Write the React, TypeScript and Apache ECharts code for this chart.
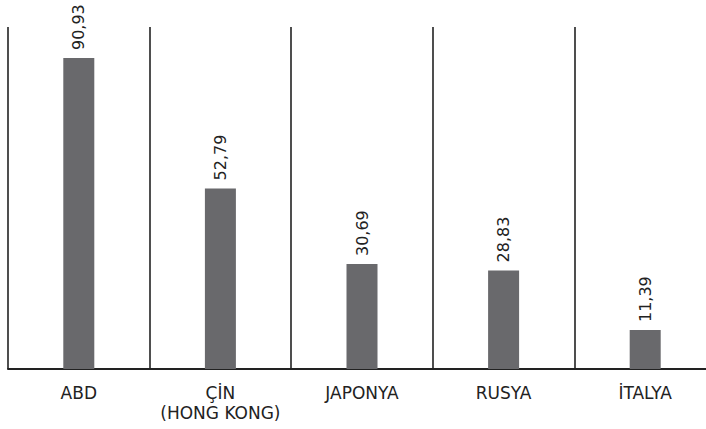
import React, { useEffect, useRef } from "react";
import * as echarts from "echarts";

const categories = ["ABD", "ÇİN\n(HONG KONG)", "JAPONYA", "RUSYA", "İTALYA"];
const values = [90.93, 52.79, 30.69, 28.83, 11.39];

export default function App() {
  const ref = useRef<HTMLDivElement>(null);
  useEffect(() => {
    document.body.style.margin = "0";
    if (!ref.current) return;
    const chart = echarts.init(ref.current, null, { renderer: "svg" });
    chart.setOption({
      animation: false,
      grid: { left: 8, right: 4, top: 27, bottom: 60, outerBoundsMode: "none" },
      xAxis: {
        type: "category",
        data: categories,
        boundaryGap: true,
        axisLine: { show: true, lineStyle: { color: "#222", width: 2 } },
        axisTick: { show: false },
        axisLabel: {
          color: "#222",
          fontFamily: "DejaVu Sans",
          fontSize: 17,
          lineHeight: 20,
          margin: 14,
          interval: 0,
        },
        splitLine: { show: true, interval: 0, lineStyle: { color: "#222", width: 1.6 } },
      },
      yAxis: {
        type: "value",
        min: 0,
        max: 100,
        show: false,
        splitLine: { show: false },
      },
      series: [
        {
          type: "bar",
          data: values,
          barWidth: 31,
          itemStyle: { color: "#69696c" },
          label: {
            show: true,
            position: "top",
            rotate: 90,
            distance: 8,
            color: "#222",
            fontFamily: "DejaVu Sans",
            fontSize: 16,
            align: "left",
            verticalAlign: "middle",
            formatter: (p: any) => p.value.toFixed(2).replace(".", ","),
          },
        },
      ],
    });
    return () => chart.dispose();
  }, []);
  return (
    <div style={{ width: 706, height: 429, overflow: "hidden", position: "relative" }}>
      <div ref={ref} style={{ width: 720, height: 429 }} />
    </div>
  );
}
